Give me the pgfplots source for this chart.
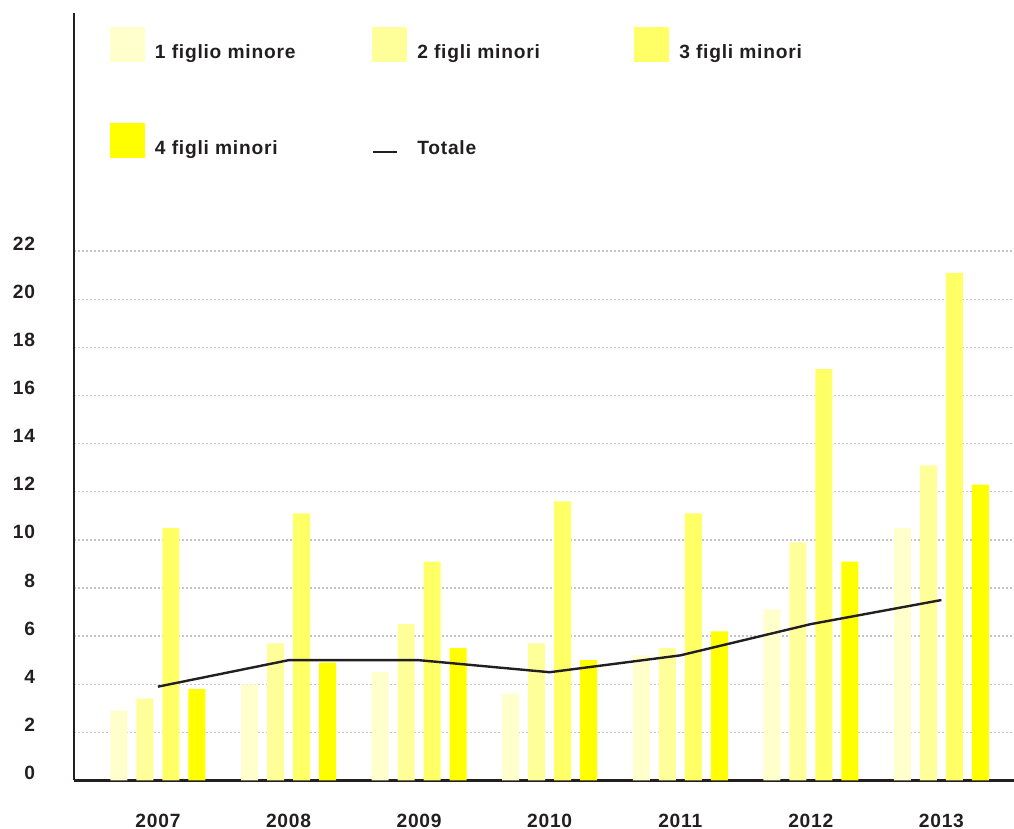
\documentclass[border=0pt]{standalone}
\usepackage{fontspec}
\setmainfont{Liberation Sans}[LetterSpace=4.0]
\usepackage{pgfplots}
\usepackage{pgfplotstable}
\pgfplotsset{compat=1.18}

\definecolor{inkdark}{HTML}{231F20}
\definecolor{uno}{HTML}{FFFFCC}
\definecolor{due}{HTML}{FFFF99}
\definecolor{tre}{HTML}{FFFF66}
\definecolor{quattro}{HTML}{FFFF00}
\definecolor{gridgray}{HTML}{C4C4C4}

% x: 0 = 2007 ... 6 = 2013
\pgfplotstableread{
x  uno  due  tre  quattro tot
0  2.9  3.4  10.5  3.8    3.9
1  4.0  5.7  11.1  4.9    5.0
2  4.5  6.5   9.1  5.5    5.0
3  3.6  5.7  11.6  5.0    4.5
4  5.2  5.5  11.1  6.2    5.2
5  7.1  9.9  17.1  9.1    6.5
6 10.5 13.1  21.1 12.3    7.5
}\figli

\newcommand{\legtext}[1]{\smash{\makebox[108.5pt][l]{#1}}}

\begin{document}
\fontsize{9.6pt}{11pt}\selectfont\bfseries
\begin{tikzpicture}
\begin{axis}[
  name=main,
  scale only axis,
  width=470pt, height=383.75pt,
  xmin=-0.643, xmax=6.556,
  ymin=0, ymax=31.9,
  axis lines=left,
  axis line style={-, draw=inkdark, line width=1.35pt},
  major tick length=0pt,
  xtick={0,1,2,3,4,5,6},
  xticklabels={2007,2008,2009,2010,2011,2012,2013},
  ytick={0,2,...,22},
  ymajorgrids,
  grid style={gridgray, line width=0.7pt, dash pattern=on 1pt off 1pt},
  /pgf/number format/assume math mode=true,
  ticklabel style={font=\fontsize{9.6pt}{11pt}\selectfont\bfseries, text=inkdark},
  xticklabel style={anchor=base, inner sep=0pt, yshift=-23.5pt},
  yticklabel style={anchor=base east, inner sep=0pt, xshift=-19.25pt, yshift=0.5pt},
  legend columns=3,
  legend cell align=left,
  legend style={
    at={(axis description cs:0,1)}, anchor=north west,
    xshift=18pt, yshift=-7pt,
    draw=none, fill=none, inner sep=0pt, outer sep=0pt,
    font=\fontsize{9.6pt}{11pt}\selectfont\bfseries, text=inkdark,
    nodes={inner sep=0pt},
    row sep=30.5pt,
    /tikz/every odd column/.style={column sep=5pt},
    /tikz/every even column/.style={column sep=0pt},
  },
]
\addplot[ybar, bar width=8.5pt, bar shift=-19.5pt, fill=uno, draw=none,
  legend image code/.code={\fill[uno] (0pt,-1pt) rectangle (17.5pt,16.5pt);}]
  table[x=x, y=uno] {\figli};
\addlegendentry{\legtext{1 figlio minore}}
\addplot[ybar, bar width=8.5pt, bar shift=-6.5pt, fill=due, draw=none,
  legend image code/.code={\fill[due] (0pt,-1pt) rectangle (17.5pt,16.5pt);}]
  table[x=x, y=due] {\figli};
\addlegendentry{\legtext{2 figli minori}}
\addplot[ybar, bar width=8.5pt, bar shift=6.5pt, fill=tre, draw=none,
  legend image code/.code={\fill[tre] (0pt,-1pt) rectangle (17.5pt,16.5pt);}]
  table[x=x, y=tre] {\figli};
\addlegendentry{\legtext{3 figli minori}}
\addplot[ybar, bar width=8.5pt, bar shift=19.5pt, fill=quattro, draw=none,
  legend image code/.code={\fill[quattro] (0pt,-1pt) rectangle (17.5pt,16.5pt);}]
  table[x=x, y=quattro] {\figli};
\addlegendentry{\legtext{4 figli minori}}
\addplot[sharp plot, mark=none, draw=inkdark, line width=1.2pt,
  legend image code/.code={\draw[inkdark, line width=1.3pt] (0.5pt,2pt) -- (12.5pt,2pt);}]
  table[x=x, y=tot] {\figli};
\addlegendentry{\legtext{Totale}}
\end{axis}
\pgfresetboundingbox
\path[use as bounding box] (main.south west) ++(-37pt,-24.25pt) rectangle ++(507pt,414.5pt);
\end{tikzpicture}
\end{document}
